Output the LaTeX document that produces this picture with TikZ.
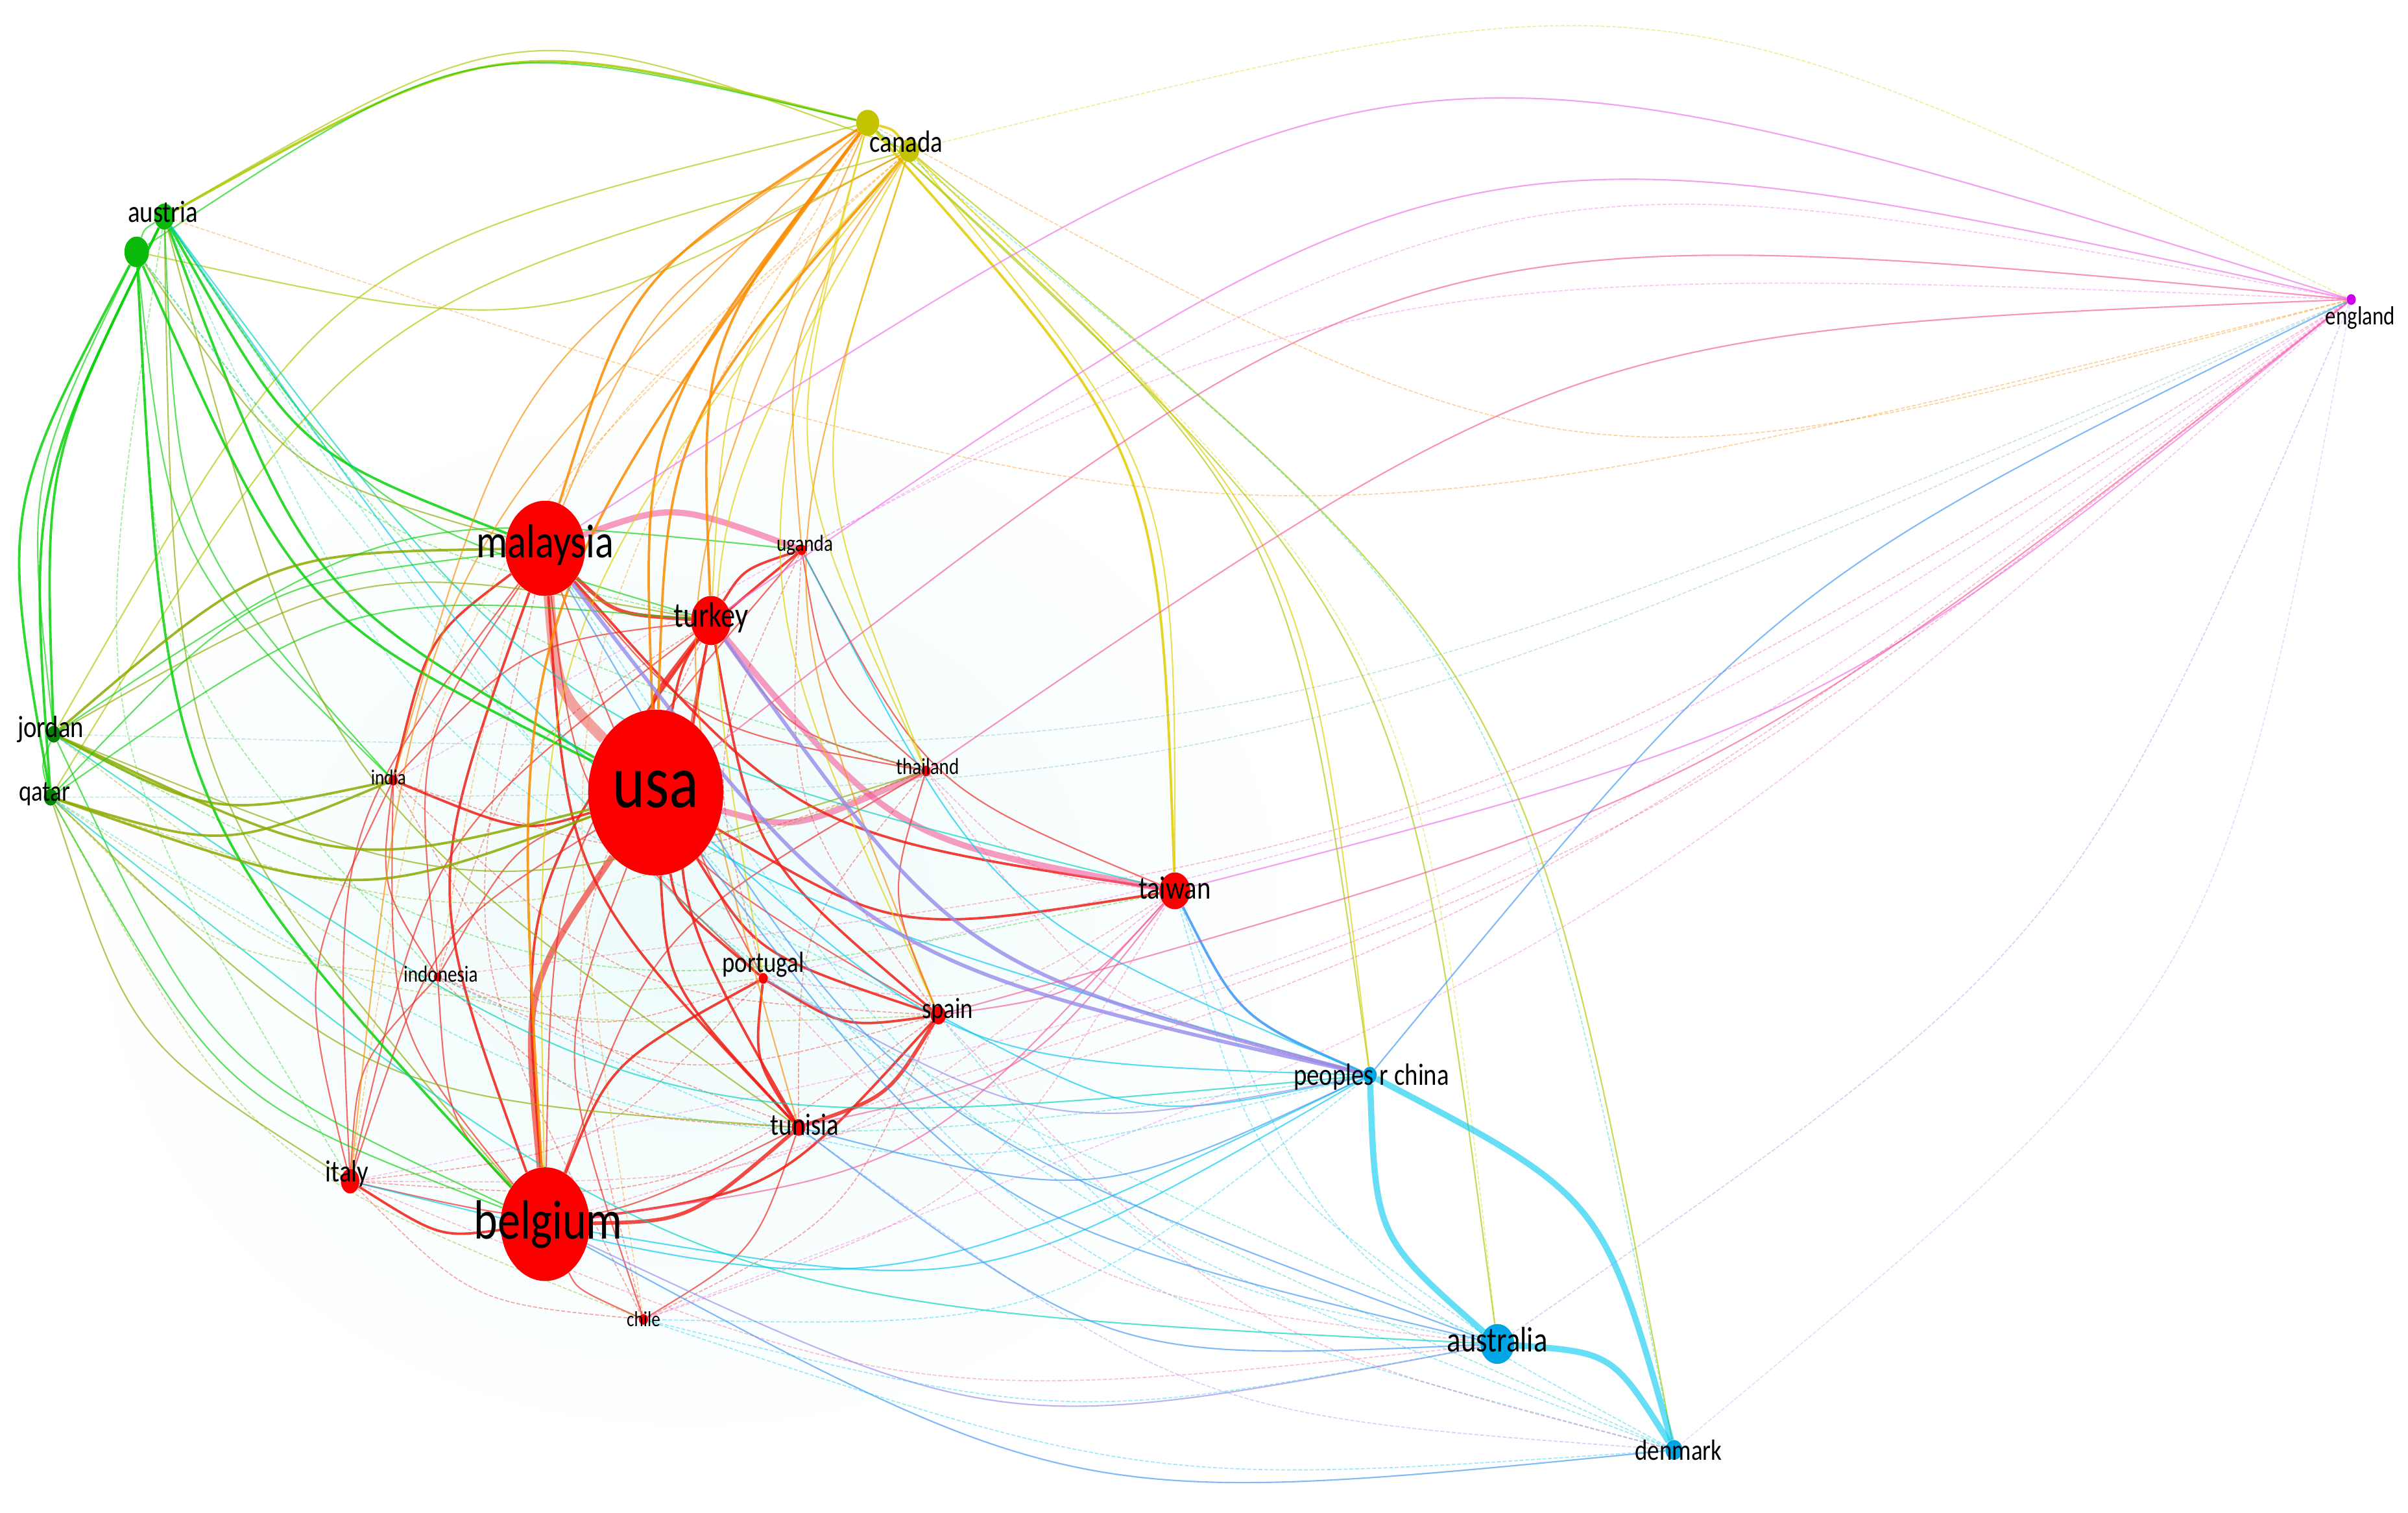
\documentclass[tikz,border=0pt]{standalone}
\usepackage{fontspec}
\setmainfont{Carlito}
\usetikzlibrary{shapes.geometric}
\pgfdeclarelayer{bg}
\pgfsetlayers{bg,main}
% edge colours
\definecolor{cR}{RGB}{240,30,20}
\definecolor{cP}{RGB}{245,90,150}
\definecolor{cO}{RGB}{250,140,0}
\definecolor{cY}{RGB}{225,205,0}
\definecolor{cLY}{RGB}{170,200,0}
\definecolor{cL}{RGB}{140,170,0}
\definecolor{cG}{RGB}{10,210,10}
\definecolor{cT}{RGB}{0,210,190}
\definecolor{cC}{RGB}{0,200,240}
\definecolor{cB}{RGB}{60,150,245}
\definecolor{cBl}{RGB}{150,190,250}
\definecolor{cV}{RGB}{150,140,235}
\definecolor{cM}{RGB}{240,110,230}
\definecolor{cGr}{RGB}{120,190,180}
% node colours
\definecolor{nRed}{RGB}{250,0,0}
\definecolor{nGreen}{RGB}{10,185,10}
\definecolor{nYel}{RGB}{195,195,0}
\definecolor{nBlue}{RGB}{0,165,230}
\definecolor{nMag}{RGB}{205,0,235}
\definecolor{haze}{RGB}{238,251,251}
\newcommand\defpos[3]{\expandafter\def\csname nX@#1\endcsname{#2}\expandafter\def\csname nY@#1\endcsname{#3}}
\defpos{usa}{427}{516}
\defpos{mal}{355}{357}
\defpos{bel}{355}{797}
\defpos{tur}{463}{404}
\defpos{uga}{522}{358}
\defpos{tha}{603}{502}
\defpos{ind}{256}{508}
\defpos{idn}{285}{636}
\defpos{por}{497}{637}
\defpos{spa}{611}{661}
\defpos{tun}{520}{734}
\defpos{ita}{228}{769}
\defpos{chi}{419}{859}
\defpos{tai}{765}{580}
\defpos{prc}{892}{700}
\defpos{aus}{975}{875}
\defpos{den}{1090}{944}
\defpos{eng}{1531}{195}
\defpos{can}{565}{80}
\defpos{cant}{592}{98}
\defpos{aut}{107}{141}
\defpos{autt}{89}{164}
\defpos{jor}{35}{478}
\defpos{qat}{33}{519}
\newcommand\px[1]{\csname nX@#1\endcsname}
\newcommand\py[1]{\csname nY@#1\endcsname}
\newcommand\sq[1]{\scalebox{0.82}[1]{#1}}
\def\bendk{0.18}
\begin{document}
\begin{tikzpicture}[x=1pt,y=-1pt,
  dot/.style={ellipse,inner sep=0pt,draw=none},
  lab/.style={inner sep=0pt,text=black},
  e1/.style={line width=0.7pt,draw opacity=0.4,dash pattern=on 2.5pt off 1.2pt},
  e2/.style={line width=0.9pt,draw opacity=0.65},
  e3/.style={line width=1.6pt,draw opacity=0.85},
  e4/.style={line width=2.4pt,draw opacity=0.8},
  e5/.style={line width=4pt,draw opacity=0.6},
  e6/.style={line width=7pt,draw opacity=0.4}]
\useasboundingbox (0,0) rectangle (1568,985);
% nodes
\node[dot,fill=nRed,minimum width=88pt,minimum height=108pt] (usa) at (\px{usa},\py{usa}) {};
\node[dot,fill=nRed,minimum width=52pt,minimum height=62pt] (mal) at (\px{mal},\py{mal}) {};
\node[dot,fill=nRed,minimum width=58pt,minimum height=74pt] (bel) at (\px{bel},\py{bel}) {};
\node[dot,fill=nRed,minimum width=26pt,minimum height=32pt] (tur) at (\px{tur},\py{tur}) {};
\node[dot,fill=nRed,minimum width=6pt,minimum height=7pt] (uga) at (\px{uga},\py{uga}) {};
\node[dot,fill=nRed,minimum width=6pt,minimum height=7pt] (tha) at (\px{tha},\py{tha}) {};
\node[dot,fill=nRed,minimum width=6pt,minimum height=7pt] (ind) at (\px{ind},\py{ind}) {};
\node[dot,fill=nRed,minimum width=5pt,minimum height=6pt] (idn) at (\px{idn},\py{idn}) {};
\node[dot,fill=nRed,minimum width=6pt,minimum height=7pt] (por) at (\px{por},\py{por}) {};
\node[dot,fill=nRed,minimum width=10pt,minimum height=12pt] (spa) at (\px{spa},\py{spa}) {};
\node[dot,fill=nRed,minimum width=9pt,minimum height=11pt] (tun) at (\px{tun},\py{tun}) {};
\node[dot,fill=nRed,minimum width=12pt,minimum height=16pt] (ita) at (\px{ita},\py{ita}) {};
\node[dot,fill=nRed,minimum width=6pt,minimum height=7pt] (chi) at (\px{chi},\py{chi}) {};
\node[dot,fill=nRed,minimum width=20pt,minimum height=24pt] (tai) at (\px{tai},\py{tai}) {};
\node[dot,fill=nBlue,minimum width=9pt,minimum height=11pt] (prc) at (\px{prc},\py{prc}) {};
\node[dot,fill=nBlue,minimum width=22pt,minimum height=26pt] (aus) at (\px{aus},\py{aus}) {};
\node[dot,fill=nBlue,minimum width=11pt,minimum height=13pt] (den) at (\px{den},\py{den}) {};
\node[dot,fill=nMag,minimum width=6pt,minimum height=7pt] (eng) at (\px{eng},\py{eng}) {};
\node[dot,fill=nYel,minimum width=15pt,minimum height=17pt] (can) at (\px{can},\py{can}) {};
\node[dot,fill=nYel,minimum width=13pt,minimum height=15pt] (cant) at (\px{cant},\py{cant}) {};
\node[dot,fill=nGreen,minimum width=13pt,minimum height=17pt] (aut) at (\px{aut},\py{aut}) {};
\node[dot,fill=nGreen,minimum width=16pt,minimum height=20pt] (autt) at (\px{autt},\py{autt}) {};
\node[dot,fill=nGreen!70!black,minimum width=9pt,minimum height=11pt] (jor) at (\px{jor},\py{jor}) {};
\node[dot,fill=nGreen!70!black,minimum width=9pt,minimum height=11pt] (qat) at (\px{qat},\py{qat}) {};
% edges
\begin{pgfonlayer}{bg}
\fill[white] (0,0) rectangle (1568,985);
\shade[inner color=haze,outer color=white] (450,600) ellipse [x radius=420, y radius=360];
\foreach \na/\nb/\ew/\ec/\es in {
usa/mal/6/cR/1, usa/bel/5/cR/1, mal/bel/3/cR/1, usa/tur/4/cR/1, mal/tur/4/cR/1,
usa/tun/3/cR/1, usa/spa/3/cR/1, usa/por/3/cR/1, usa/tai/3/cR/1, usa/tha/5/cP/1,
usa/uga/3/cR/1, usa/ind/3/cR/1, usa/idn/2/cR/1, usa/ita/2/cR/1, usa/chi/2/cR/1,
mal/uga/5/cP/1, mal/tha/2/cR/1, mal/ind/3/cR/1, mal/idn/2/cR/1, mal/por/2/cR/1,
mal/spa/2/cR/1, mal/tun/3/cR/1, mal/ita/2/cR/1, mal/chi/1/cR/1, mal/tai/3/cR/1,
bel/tur/3/cR/1, bel/tun/4/cR/1, bel/spa/3/cR/1, bel/por/3/cR/1, bel/ita/3/cR/1,
bel/chi/2/cR/1, bel/idn/2/cR/1, bel/ind/2/cR/1, bel/tha/2/cR/1, bel/uga/2/cR/1,
bel/tai/2/cP/1, tur/uga/3/cR/1, tur/tha/2/cR/1, tur/tai/5/cP/1, tur/tun/3/cR/1,
tur/spa/3/cR/1, tur/por/2/cR/1, tur/ind/2/cR/1, tur/idn/1/cR/1, tur/ita/2/cR/1,
tur/chi/1/cR/1, tun/spa/4/cR/1, tun/por/3/cR/1, spa/por/3/cR/1, tun/ita/2/cR/1,
tun/chi/2/cR/1, tun/tai/2/cP/1, spa/tai/2/cP/1, spa/ita/1/cR/1, por/ita/1/cR/1,
por/idn/1/cR/1, ind/idn/2/cR/1, ind/ita/2/cR/1, idn/ita/2/cR/1, idn/tun/1/cR/1,
ind/tun/1/cR/1, uga/tha/2/cR/1, uga/spa/1/cR/1, tha/spa/2/cR/1, tha/tai/1/cP/1,
chi/spa/1/cR/1, ita/tai/1/cP/1, uga/tai/2/cR/1, tha/tun/1/cR/1, por/tai/1/cP/1,
ind/tha/1/cR/1, uga/por/1/cR/1, ind/spa/1/cR/1, chi/tai/1/cP/1, ita/chi/1/cR/1,
idn/spa/1/cR/1,
aut/qat/3/cG/0.75, aut/jor/3/cG/0.7, autt/qat/3/cG/0.95, autt/jor/2/cG/0.8, jor/qat/2/cG/1,
aut/autt/2/cG/1, aut/can/3/cLY/1.1, autt/can/2/cG/1.2, aut/cant/2/cLY/1.3, autt/cant/2/cLY/-1,
jor/can/2/cLY/1.2, qat/cant/2/cLY/1.1, aut/usa/3/cG/1, aut/mal/3/cG/1, aut/bel/2/cL/1,
aut/tur/2/cG/1, aut/tai/2/cT/1, aut/prc/2/cC/1, aut/ind/2/cG/1, aut/tha/1/cG/1,
aut/spa/1/cT/1, aut/tun/2/cL/1, aut/ita/1/cG/1, aut/aus/1/cT/0.8, autt/usa/3/cG/1,
autt/mal/2/cL/1, autt/bel/3/cG/1, autt/ind/2/cG/1, autt/idn/1/cG/1, autt/tur/1/cG/1,
autt/den/1/cT/0.7, jor/usa/3/cL/1, jor/mal/3/cL/1, jor/ind/3/cL/1, jor/tur/2/cL/1,
jor/tha/2/cL/1, jor/bel/2/cG/1, jor/tai/1/cG/1, jor/prc/2/cT/1, jor/spa/1/cL/1,
jor/uga/2/cG/1, qat/usa/3/cL/1, qat/bel/2/cG/1, qat/ita/2/cL/1, qat/ind/3/cL/1,
qat/mal/2/cG/1, qat/tun/2/cL/1, qat/prc/1/cT/1, qat/aus/2/cT/0.9, qat/por/1/cL/1,
qat/idn/1/cL/1, qat/tur/2/cG/1, qat/tha/1/cL/1, qat/chi/1/cL/1,
can/cant/3/cY/1, can/usa/3/cO/1, can/mal/3/cO/1, can/bel/3/cO/1, can/tur/3/cO/1,
can/tai/3/cY/1, can/prc/2/cLY/1, can/ind/2/cO/1, can/spa/2/cY/1, can/tun/2/cO/1,
cant/usa/3/cO/1, cant/mal/2/cO/1, cant/tur/2/cY/1, cant/por/2/cY/1, cant/spa/2/cO/1,
cant/tha/2/cY/1, cant/uga/2/cO/1, cant/den/2/cLY/1, cant/aus/1/cY/1, cant/bel/2/cY/1,
cant/tai/2/cY/1, cant/idn/1/cO/1, cant/ita/1/cO/1, can/chi/1/cO/1,
can/aus/2/cLY/1, can/den/1/cT/1, cant/prc/2/cY/1, can/tha/2/cY/1, can/ita/2/cO/1,
prc/aus/5/cC/-1.2, prc/den/5/cC/1.2, aus/den/5/cC/-1.4, prc/tai/3/cB/1, prc/usa/2/cC/1,
prc/mal/4/cV/1, prc/tur/4/cV/1, prc/bel/2/cC/1, prc/ita/2/cC/1, prc/spa/2/cC/1,
prc/tun/2/cB/1, prc/idn/1/cC/1, prc/por/2/cV/1, prc/tha/1/cP/1, prc/uga/2/cC/1,
aus/usa/2/cB/1, aus/bel/2/cV/0.9, aus/tun/2/cB/1, aus/spa/1/cC/1, aus/tai/1/cC/1,
aus/chi/1/cC/0.6, aus/mal/2/cB/1, den/usa/1/cC/0.9, den/bel/2/cB/0.85, den/tai/1/cC/1,
den/tun/1/cV/0.8, den/mal/1/cC/0.9, den/chi/1/cC/0.55, prc/chi/1/cC/1,
aus/ita/1/cP/0.7, den/spa/1/cP/0.8, aus/por/1/cP/1,
eng/mal/2/cM/1.3, eng/usa/2/cP/1.1, eng/tur/2/cM/1.2, eng/uga/1/cM/1, eng/tha/2/cP/0.8,
eng/tai/2/cM/0.6, eng/spa/2/cP/0.55, eng/tun/1/cP/0.5, eng/bel/1/cP/0.5, eng/por/1/cM/0.5,
eng/ita/1/cM/0.6, eng/chi/1/cM/0.5, eng/idn/1/cP/0.6, eng/ind/1/cM/0.8, eng/prc/2/cB/-0.6,
eng/aus/1/cV/0.8, eng/den/1/cBl/1, eng/can/1/cO/-1.1, eng/cant/1/cY/1, eng/aut/1/cO/-0.8,
eng/jor/1/cGr/-0.6, eng/qat/1/cGr/-0.6}{
  \pgfmathsetmacro\ax{\px{\na}}
  \pgfmathsetmacro\ay{\py{\na}}
  \pgfmathsetmacro\bx{\px{\nb}}
  \pgfmathsetmacro\by{\py{\nb}}
  \pgfmathsetmacro\mx{(\ax+\bx)/2}
  \pgfmathsetmacro\my{(\ay+\by)/2}
  \pgfmathsetmacro\qx{-(\by-\ay)}
  \pgfmathsetmacro\qy{\bx-\ax}
  \pgfmathsetmacro\dt{((\mx-700)/100)*(\qx/100)+((\my-480)/100)*(\qy/100)}
  \pgfmathsetmacro\sg{\es*ifthenelse(\dt>=0,1,-1)}
  \pgfmathsetmacro\cx{\mx+\bendk*\sg*\qx}
  \pgfmathsetmacro\cy{\my+\bendk*\sg*\qy}
  \draw[e\ew,draw=\ec] (\na) .. controls (\cx,\cy) .. (\nb);
}
\end{pgfonlayer}
% labels
\node[lab,font=\fontsize{49}{49}\selectfont] (usa-l) at (427,514) {\sq{usa}};
\node[lab,font=\fontsize{31}{31}\selectfont] (mal-l) at (355,355) {\sq{malaysia}};
\node[lab,font=\fontsize{36}{36}\selectfont] (bel-l) at (357,797) {\sq{belgium}};
\node[lab,font=\fontsize{23}{23}\selectfont] (tur-l) at (463,402) {\sq{turkey}};
\node[lab,font=\fontsize{15}{15}\selectfont] (uga-l) at (524,355) {\sq{uganda}};
\node[lab,font=\fontsize{15}{15}\selectfont] (tha-l) at (604,499) {\sq{thailand}};
\node[lab,font=\fontsize{14}{14}\selectfont] (ind-l) at (253,506) {\sq{india}};
\node[lab,font=\fontsize{15}{15}\selectfont] (idn-l) at (287,634) {\sq{indonesia}};
\node[lab,font=\fontsize{19}{19}\selectfont] (por-l) at (497,628) {\sq{portugal}};
\node[lab,font=\fontsize{19}{19}\selectfont] (spa-l) at (617,658) {\sq{spain}};
\node[lab,font=\fontsize{20}{20}\selectfont] (tun-l) at (524,732) {\sq{tunisia}};
\node[lab,font=\fontsize{20}{20}\selectfont] (ita-l) at (226,764) {\sq{italy}};
\node[lab,font=\fontsize{14}{14}\selectfont] (chi-l) at (419,859) {\sq{chile}};
\node[lab,font=\fontsize{21}{21}\selectfont] (tai-l) at (765,578) {\sq{taiwan}};
\node[lab,font=\fontsize{20}{20}\selectfont] (prc-l) at (893,701) {\sq{peoples r china}};
\node[lab,font=\fontsize{23}{23}\selectfont] (aus-l) at (975,872) {\sq{australia}};
\node[lab,font=\fontsize{19}{19}\selectfont] (den-l) at (1093,944) {\sq{denmark}};
\node[lab,font=\fontsize{17}{17}\selectfont] (eng-l) at (1537,207) {\sq{england}};
\node[lab,font=\fontsize{20}{20}\selectfont] (can-l) at (590,92) {\sq{canada}};
\node[lab,font=\fontsize{20}{20}\selectfont] (aut-l) at (106,138) {\sq{austria}};
\node[lab,font=\fontsize{20}{20}\selectfont] (jor-l) at (33,475) {\sq{jordan}};
\node[lab,font=\fontsize{19}{19}\selectfont] (qat-l) at (29,517) {\sq{qatar}};
\end{tikzpicture}
\end{document}
